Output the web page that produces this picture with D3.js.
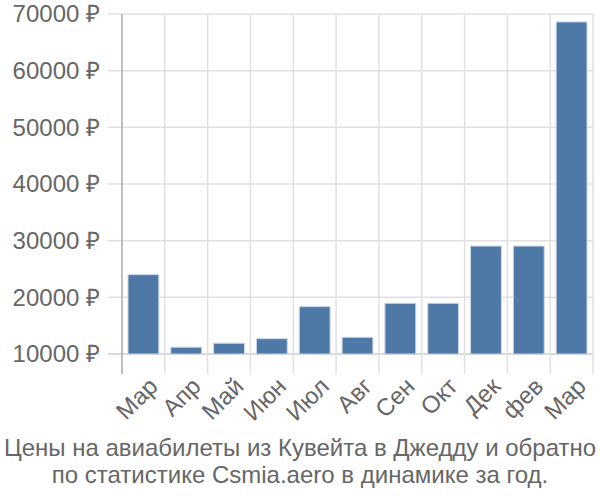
<!DOCTYPE html>
<html><head><meta charset="utf-8">
<script src="https://cdn.jsdelivr.net/npm/d3@7"></script>
<style>body{margin:0;background:#fff}svg{display:block}text{font-family:"Liberation Sans",Arial,sans-serif;fill:#666}</style>
</head><body><svg id="c" width="600" height="500"></svg>
<script>
const months = ["Мар","Апр","Май","Июн","Июл","Авг","Сен","Окт","Дек","фев","Мар"];
const prices = [24000,11200,11900,12700,18350,12950,18950,18950,29050,29050,68600];
const yTicks = [10000,20000,30000,40000,50000,60000,70000];
const titleLines = ["Цены на авиабилеты из Кувейта в Джедду и обратно","по статистике Csmia.aero в динамике за год."];

const svg = d3.select("#c");
const L=122,R=593,T=14,B=354,B2=374;
const x = d3.scaleBand().domain(d3.range(months.length)).range([L,R]).padding(0);
const y = d3.scaleLinear().domain([10000,70000]).range([B,T]);

// horizontal grid
svg.append("g").selectAll("line").data(yTicks).join("line")
 .attr("x1",L-14).attr("x2",R).attr("y1",d=>y(d)).attr("y2",d=>y(d))
 .attr("stroke",d=>d===10000?"#ccc":"#e0e0e0").attr("stroke-width",1.5);
// vertical grid
const vg = d3.range(months.length+1).map(i=> i<months.length ? x(i) : R);
svg.append("g").selectAll("line").data(vg.slice(1)).join("line")
 .attr("x1",d=>d).attr("x2",d=>d).attr("y1",T).attr("y2",B2)
 .attr("stroke","#e0e0e0").attr("stroke-width",1.5);
// y axis line
svg.append("line").attr("x1",L).attr("x2",L).attr("y1",T).attr("y2",B2).attr("stroke","#aaa").attr("stroke-width",1.5);

// bars
const pad = 6;
svg.append("g").selectAll("rect").data(prices).join("rect")
 .attr("x",(d,i)=>x(i)+pad).attr("width",x.bandwidth()-2*pad)
 .attr("y",d=>y(d)).attr("height",d=>y(10000)-y(d))
 .attr("fill","#4e79a7").attr("stroke","#c8d6e6").attr("stroke-width",1);

// y labels
svg.append("g").selectAll("text").data(yTicks).join("text")
 .attr("x",100).attr("y",d=>y(d)).attr("dy","0.35em").attr("text-anchor","end")
 .style("font-size","24px").text(d=>d+" ₽");

// x labels
svg.append("g").selectAll("text").data(months).join("text")
 .attr("transform",(d,i)=>`translate(${x(i)+x.bandwidth()/2+4},${B2+2}) rotate(-45)`)
 .attr("text-anchor","end").attr("dy","0.7em").style("font-size","24px").text(d=>d);

// title
svg.append("g").selectAll("text").data(titleLines).join("text")
 .attr("x",300).attr("y",(d,i)=>456+i*27).attr("text-anchor","middle")
 .style("font-size","24px").text(d=>d);
</script></body></html>
